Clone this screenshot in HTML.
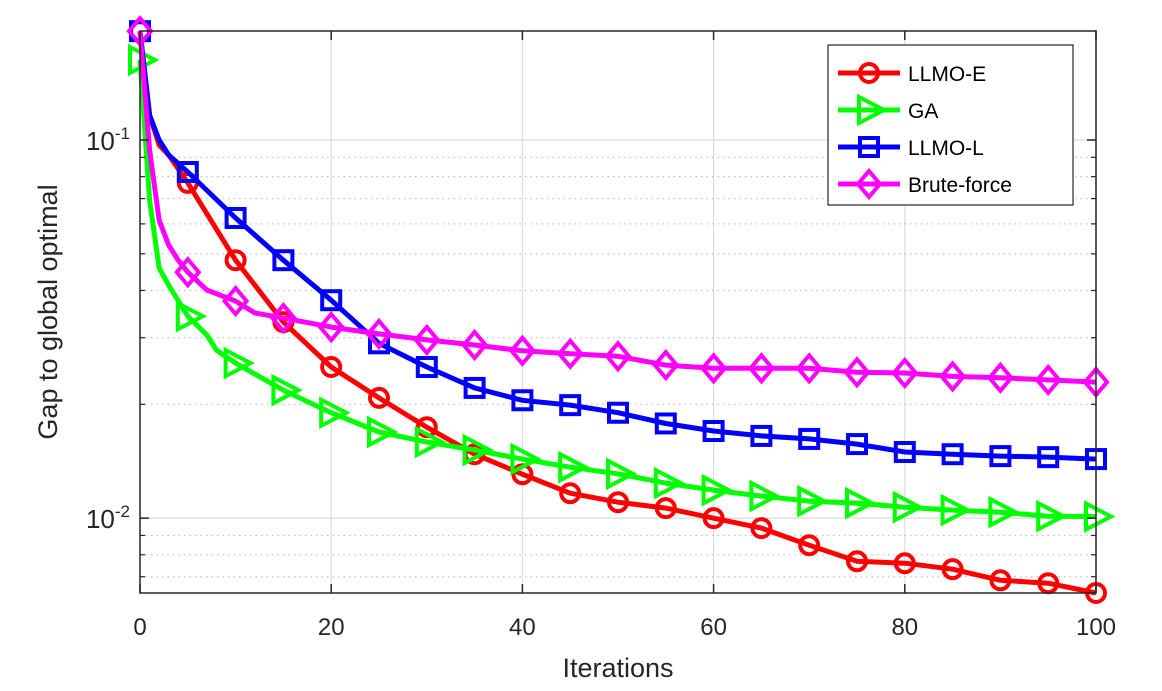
<!DOCTYPE html>
<html><head><meta charset="utf-8"><style>
body{margin:0;background:#fff}
svg{display:block;font-family:"Liberation Sans",sans-serif}
</style></head><body>
<svg id="chart" width="1162" height="691" viewBox="0 0 1162 691" xmlns="http://www.w3.org/2000/svg">
<rect x="140" y="31" width="956" height="562" fill="#fff"/>
<g id="grid"></g>
<g id="series"></g>
<rect x="140" y="31" width="956" height="562" fill="none" stroke="#262626" stroke-width="1.5"/>
<g id="axes"></g>
<text x="618" y="677" font-size="27" fill="#262626" text-anchor="middle">Iterations</text>
<text transform="translate(57,312) rotate(-90)" font-size="27" fill="#262626" text-anchor="middle">Gap to global optimal</text>
<g id="legend"></g>
</svg>
<script>
const seriesNames = ["LLMO-E","GA","LLMO-L","Brute-force"];
const xE = [0,1,2,3,5,10,15,20,25,30,35,40,45,50,55,60,65,70,75,80,85,90,95,100];
const yE = [0.194,0.1164,0.097,0.0913,0.077,0.0481,0.033,0.0251,0.0208,0.0174,0.01476,0.01307,0.01164,0.01102,0.01063,0.0100,0.00941,0.00848,0.00769,0.0076,0.00733,0.00685,0.00673,0.00634];
const xG = [0,1,2,3,5,7,8,10,15,20,25,30,35,40,45,50,55,60,65,70,75,80,85,90,95,100];
const yG = [0.1628,0.0694,0.0459,0.0413,0.0342,0.0305,0.0278,0.0257,0.0218,0.019,0.0169,0.0159,0.01514,0.01433,0.01364,0.0131,0.01238,0.01186,0.01144,0.01109,0.01096,0.01069,0.0105,0.01037,0.01012,0.0101];
const xL = [0,1,2,3,5,10,15,20,25,30,35,40,45,50,55,60,65,70,75,80,85,90,95,100];
const yL = [0.194,0.1164,0.1,0.0913,0.0823,0.0622,0.0481,0.0377,0.029,0.0251,0.0221,0.0205,0.0199,0.019,0.0178,0.017,0.0165,0.0162,0.0157,0.01496,0.01476,0.01459,0.0145,0.01433];
const xB = [0,1,2,3,4,5,7,10,12,15,20,25,30,35,40,45,50,55,60,65,70,75,80,85,90,95,100];
const yB = [0.194,0.0941,0.0614,0.0527,0.0481,0.0447,0.0401,0.0375,0.0349,0.0338,0.032,0.0307,0.0296,0.0287,0.0277,0.0272,0.0268,0.0254,0.0249,0.0249,0.0249,0.0243,0.0242,0.0237,0.0235,0.0232,0.0229];
const xTicks = [0,20,40,60,80,100];
const markerEvery = 5;

const NS="http://www.w3.org/2000/svg";
const L=140,R=1096,T=31,B=593;
const xMin=0,xMax=100, yLogTop=Math.log10(0.1942), yLogBot=Math.log10(0.00634);
function sx(v){return L+(v-xMin)/(xMax-xMin)*(R-L);}
function sy(v){return T+(yLogTop-Math.log10(v))/(yLogTop-yLogBot)*(B-T);}
function mk(tag,attrs,parent){const e=document.createElementNS(NS,tag);for(const k in attrs)e.setAttribute(k,attrs[k]);parent.appendChild(e);return e;}

const grid=document.getElementById('grid'), axes=document.getElementById('axes');
xTicks.forEach(t=>{
  const g=mk('line',{x1:sx(t),x2:sx(t),y1:T,y2:B,stroke:'#dcdcdc','stroke-width':1.2},grid);
  
  
  mk('line',{x1:sx(t),x2:sx(t),y1:B,y2:B-9,stroke:'#262626','stroke-width':1.5},axes);
  mk('line',{x1:sx(t),x2:sx(t),y1:T,y2:T+9,stroke:'#262626','stroke-width':1.5},axes);
  const tx=mk('text',{x:sx(t),y:B+42,'font-size':24,fill:'#262626','text-anchor':'middle'},axes);
  tx.textContent=t;
  
  
});
for(let d=-3; d<=-1; d++){
  for(let m=1;m<=9;m++){
    const v=m*Math.pow(10,d);
    if(v<0.00634||v>0.1942)continue;
    const y=sy(v);
    if(m===1){
      const g=mk('line',{x1:L,x2:R,y1:y,y2:y,stroke:'#dcdcdc','stroke-width':1.2},grid);
      
      
      mk('line',{x1:L,x2:L+9,y1:y,y2:y,stroke:'#262626','stroke-width':1.5},axes);
      mk('line',{x1:R,x2:R-9,y1:y,y2:y,stroke:'#262626','stroke-width':1.5},axes);
      const tx=mk('text',{x:L-10,y:y+10,'font-size':26,fill:'#262626','text-anchor':'end'},axes);
      tx.innerHTML='10<tspan dy="-11" font-size="17">'+d+'</tspan>';
      
      
    } else {
      const g=mk('line',{x1:L,x2:R,y1:y,y2:y,stroke:'#c0c0c0','stroke-width':1.2,'stroke-dasharray':'1.5 4'},grid);
      
      
      mk('line',{x1:L,x2:L+5,y1:y,y2:y,stroke:'#262626','stroke-width':1.2},axes);
      mk('line',{x1:R,x2:R-5,y1:y,y2:y,stroke:'#262626','stroke-width':1.2},axes);
    }
  }
}

function marker(type,cx,cy,color,parent){
  let e;
  if(type==='o') e=mk('circle',{cx,cy,r:9,fill:'none',stroke:color,'stroke-width':4},parent);
  else if(type==='>') e=mk('polygon',{points:`${cx-10},${cy-13} ${cx+15},${cy} ${cx-10},${cy+13}`,fill:'none',stroke:color,'stroke-width':4,'stroke-linejoin':'miter'},parent);
  else if(type==='s') e=mk('rect',{x:cx-9,y:cy-9,width:18,height:18,fill:'none',stroke:color,'stroke-width':4},parent);
  else e=mk('polygon',{points:`${cx},${cy-13} ${cx+11},${cy} ${cx},${cy+13} ${cx-11},${cy}`,fill:'none',stroke:color,'stroke-width':4},parent);
  return e;
}
const defs=[
  {n:'llmo-e',xs:xE,ys:yE,c:'#ff0000',m:'o'},
  {n:'ga',xs:xG,ys:yG,c:'#00ff00',m:'>'},
  {n:'llmo-l',xs:xL,ys:yL,c:'#0000ff',m:'s'},
  {n:'brute-force',xs:xB,ys:yB,c:'#ff00ff',m:'d'}];
const sg=document.getElementById('series');
defs.forEach(s=>{
  const g=mk('g',{},sg);
  
  
  const pts=s.xs.map((x,i)=>sx(x).toFixed(1)+','+sy(s.ys[i]).toFixed(1)).join(' ');
  const pl=mk('polyline',{points:pts,fill:'none',stroke:s.c,'stroke-width':5,'stroke-linejoin':'round'},g);
  
  
  s.xs.forEach((x,i)=>{ if(x%markerEvery===0){
    const m=marker(s.m,sx(x),sy(s.ys[i]),s.c,g);
    
    
  }});
});
const lg=document.getElementById('legend');
const box=mk('rect',{x:828,y:45,width:245,height:160,fill:'#fff',stroke:'#262626','stroke-width':1.2},lg);


defs.forEach((s,i)=>{
  const y=73+i*37;
  const g=mk('g',{},lg);
  
  
  mk('line',{x1:838,x2:900,y1:y,y2:y,stroke:s.c,'stroke-width':5},g);
  marker(s.m,869,y,s.c,g);
  const t=mk('text',{x:908,y:y+8,'font-size':21,fill:'#000'},g);
  t.textContent=seriesNames[i];
});
</script>
</body></html>
